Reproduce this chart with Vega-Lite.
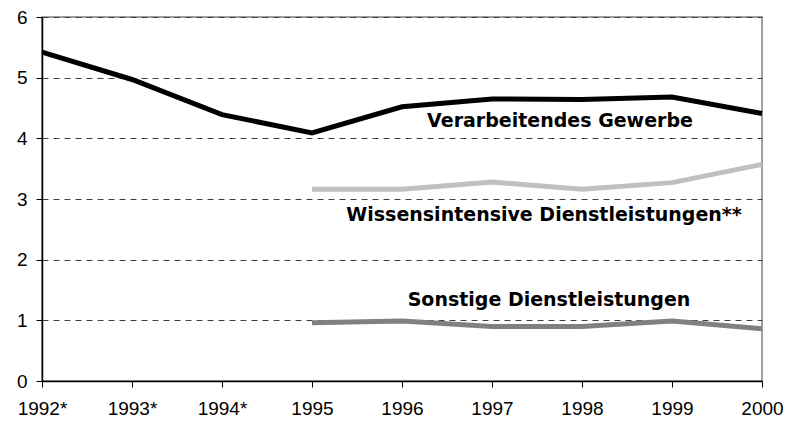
{
  "$schema": "https://vega.github.io/schema/vega-lite/v6.json",
  "width": 720,
  "height": 364,
  "autosize": {"type": "none"},
  "padding": {"left": 42, "top": 17, "right": 25, "bottom": 42},
  "background": "white",
  "config": {
    "font": "Liberation Sans",
    "view": {"stroke": "#808080", "strokeWidth": 1.5}
  },
  "datasets": {
    "series": [
      {"series": "Verarbeitendes Gewerbe", "year": "1992*", "value": 5.42},
      {"series": "Verarbeitendes Gewerbe", "year": "1993*", "value": 4.97},
      {"series": "Verarbeitendes Gewerbe", "year": "1994*", "value": 4.39},
      {"series": "Verarbeitendes Gewerbe", "year": "1995", "value": 4.09},
      {"series": "Verarbeitendes Gewerbe", "year": "1996", "value": 4.52},
      {"series": "Verarbeitendes Gewerbe", "year": "1997", "value": 4.65},
      {"series": "Verarbeitendes Gewerbe", "year": "1998", "value": 4.64},
      {"series": "Verarbeitendes Gewerbe", "year": "1999", "value": 4.68},
      {"series": "Verarbeitendes Gewerbe", "year": "2000", "value": 4.41},
      {"series": "Wissensintensive Dienstleistungen**", "year": "1995", "value": 3.16},
      {"series": "Wissensintensive Dienstleistungen**", "year": "1996", "value": 3.16},
      {"series": "Wissensintensive Dienstleistungen**", "year": "1997", "value": 3.28},
      {"series": "Wissensintensive Dienstleistungen**", "year": "1998", "value": 3.16},
      {"series": "Wissensintensive Dienstleistungen**", "year": "1999", "value": 3.27},
      {"series": "Wissensintensive Dienstleistungen**", "year": "2000", "value": 3.57},
      {"series": "Sonstige Dienstleistungen", "year": "1995", "value": 0.96},
      {"series": "Sonstige Dienstleistungen", "year": "1996", "value": 0.99},
      {"series": "Sonstige Dienstleistungen", "year": "1997", "value": 0.9},
      {"series": "Sonstige Dienstleistungen", "year": "1998", "value": 0.9},
      {"series": "Sonstige Dienstleistungen", "year": "1999", "value": 0.99},
      {"series": "Sonstige Dienstleistungen", "year": "2000", "value": 0.86}
    ],
    "labels": [
      {"series": "Verarbeitendes Gewerbe", "year": "1998", "value": 4.18, "shift": -22},
      {"series": "Wissensintensive Dienstleistungen**", "year": "1998", "value": 2.63, "shift": -38},
      {"series": "Sonstige Dienstleistungen", "year": "1998", "value": 1.24, "shift": -33}
    ]
  },
  "encoding": {
    "x": {
      "field": "year",
      "type": "ordinal",
      "sort": ["1992*", "1993*", "1994*", "1995", "1996", "1997", "1998", "1999", "2000"],
      "scale": {"type": "point", "padding": 0,
        "domain": ["1992*", "1993*", "1994*", "1995", "1996", "1997", "1998", "1999", "2000"]},
      "axis": {
        "title": null,
        "labelAngle": 0,
        "labelFontSize": 19,
        "labelColor": "#000000",
        "labelPadding": 12,
        "domainColor": "#000000",
        "domainWidth": 1.5,
        "tickColor": "#000000",
        "tickSize": 6,
        "grid": false
      }
    },
    "y": {
      "field": "value",
      "type": "quantitative",
      "scale": {"domain": [0, 6], "nice": false},
      "axis": {
        "title": null,
        "values": [0, 1, 2, 3, 4, 5, 6],
        "labelFontSize": 19,
        "labelColor": "#000000",
        "labelPadding": 9,
        "domainColor": "#000000",
        "domainWidth": 1.5,
        "tickColor": "#000000",
        "tickSize": 6,
        "grid": true,
        "gridColor": "#404040",
        "gridDash": [6, 5],
        "gridWidth": 1
      }
    }
  },
  "layer": [
    {
      "data": {"name": "series"},
      "mark": {"type": "line", "strokeJoin": "miter"},
      "encoding": {
        "detail": {"field": "series"},
        "color": {
          "field": "series",
          "type": "nominal",
          "scale": {
            "domain": ["Verarbeitendes Gewerbe", "Wissensintensive Dienstleistungen**", "Sonstige Dienstleistungen"],
            "range": ["#000000", "#c0c0c0", "#808080"]
          },
          "legend": null
        },
        "strokeWidth": {
          "field": "series",
          "type": "nominal",
          "scale": {
            "domain": ["Verarbeitendes Gewerbe", "Wissensintensive Dienstleistungen**", "Sonstige Dienstleistungen"],
            "range": [5, 5, 3]
          },
          "legend": null
        }
      }
    },
    {
      "data": {"name": "labels"},
      "mark": {"type": "text", "font": "DejaVu Sans", "fontSize": 19, "fontWeight": "bold", "baseline": "alphabetic", "align": "center", "color": "#000000"},
      "encoding": {
        "text": {"field": "series"},
        "xOffset": {"field": "shift", "type": "quantitative", "scale": null}
      }
    }
  ]
}
